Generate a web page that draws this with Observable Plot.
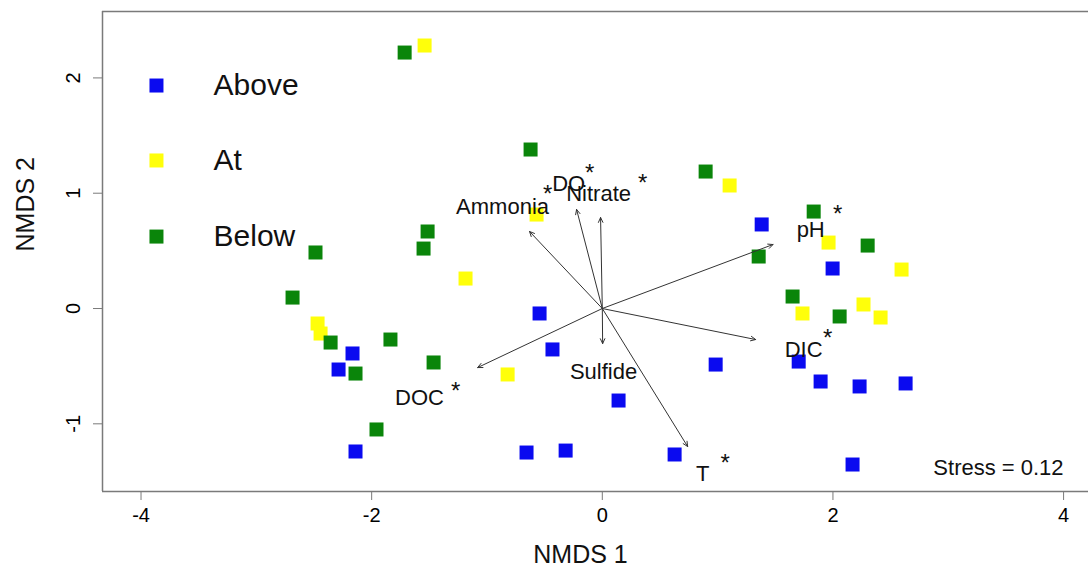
<!DOCTYPE html>
<html>
<head>
<meta charset="utf-8">
<script src="https://cdn.jsdelivr.net/npm/d3@7"></script>
<script src="https://cdn.jsdelivr.net/npm/@observablehq/plot@0.6"></script>
<style>
  html, body { margin: 0; padding: 0; background: #fff; }
  #chart { width: 1088px; height: 574px; }
</style>
</head>
<body>
<div id="chart"></div>
<script>
// ---- Data (NMDS coordinates) ----
const groups = ["Above", "At", "Below"];
const groupColors = ["#0a0af0", "#ffff0a", "#0a850a"];

const abovePts = [
  [1.382, 0.729], [1.997, 0.347], [-0.544, -0.043], [-0.432, -0.355],
  [-2.166, -0.390], [-2.287, -0.529], [0.983, -0.486], [1.703, -0.460],
  [0.141, -0.798], [1.893, -0.633], [2.231, -0.676], [2.630, -0.650],
  [-2.140, -1.240], [-0.657, -1.249], [-0.318, -1.232], [0.627, -1.266],
  [2.170, -1.353]
];
const atPts = [
  [-1.541, 2.281], [1.104, 1.067], [-0.570, 0.815], [1.962, 0.572],
  [2.595, 0.338], [-1.186, 0.260], [1.736, -0.043], [2.265, 0.035],
  [2.413, -0.078], [-2.469, -0.130], [-2.443, -0.217], [-0.821, -0.572]
];
const belowPts = [
  [-1.714, 2.220], [-0.622, 1.379], [0.896, 1.188], [1.833, 0.841],
  [2.301, 0.546], [1.356, 0.451], [-2.487, 0.486], [-1.515, 0.668],
  [-1.550, 0.520], [-2.686, 0.095], [1.650, 0.104], [2.058, -0.069],
  [-2.356, -0.295], [-1.837, -0.269], [-2.140, -0.564], [-1.463, -0.468],
  [-1.958, -1.049]
];

// Environmental vectors (arrow tips) and their labels
const envNames  = ["DOC", "Sulfide", "T", "DIC", "pH", "Ammonia", "DO", "Nitrate"];
const envX      = [-1.081, 0.003, 0.740, 1.330, 1.480, -0.631, -0.223, -0.015];
const envY      = [-0.512, -0.304, -1.197, -0.269, 0.555, 0.668, 0.859, 0.789];
const envLabelX = [-1.585, 0.011, 0.870, 1.746, 1.807, -0.865, -0.292, -0.032];
const envLabelY = [-0.772, -0.546, -1.431, -0.356, 0.685, 0.885, 1.084, 0.997];

// Significance asterisks
const starX = [-1.272, 1.065, 1.954, 2.041, -0.474, -0.110, 0.350];
const starY = [-0.668, -1.292, -0.208, 0.867, 1.041, 1.223, 1.136];

// Axis ticks
const xTicks = [-4, -2, 0, 2, 4];
const yTicks = [-1, 0, 1, 2];
const stressText = "Stress = 0.12";

// ---- Build tables ----
const points = [
  ...abovePts.map(([x, y]) => ({x, y, group: "Above"})),
  ...atPts.map(([x, y]) => ({x, y, group: "At"})),
  ...belowPts.map(([x, y]) => ({x, y, group: "Below"}))
];
const vectors = envNames.map((name, i) => ({name, x: envX[i], y: envY[i], lx: envLabelX[i], ly: envLabelY[i]}));
const stars = starX.map((x, i) => ({x, y: starY[i]}));

const xDomain = [-4.334, 4.216];
const yDomain = [-1.587, 2.576];
const frameColor = "#7a7a7a";
const font = "'Liberation Sans', Arial, Helvetica, sans-serif";

// Legend placement inside the frame (data units)
const legendX = -3.866, legendTextX = -3.371;
const legendY = [1.934, 1.284, 0.624];
const legendRows = groups.map((g, i) => ({group: g, y: legendY[i]}));

const chart = Plot.plot({
  width: 1088,
  height: 574,
  marginLeft: 102,
  marginRight: 0,
  marginTop: 11,
  marginBottom: 83,
  style: {fontFamily: font, background: "#fff", color: "black"},
  x: {domain: xDomain},
  y: {domain: yDomain},
  color: {domain: groups, range: groupColors},
  marks: [
    // box (left, top, bottom)
    Plot.ruleX([xDomain[0]], {stroke: frameColor, strokeWidth: 1.5}),
    Plot.ruleY([yDomain[1]], {stroke: frameColor, strokeWidth: 1.5}),
    Plot.ruleY([yDomain[0]], {stroke: frameColor, strokeWidth: 1.5}),
    Plot.axisX({ticks: xTicks, tickFormat: d => String(d), tickSize: 9, tickPadding: 7,
      fontSize: 20, stroke: frameColor, fill: "black", label: null}),
    Plot.axisY({ticks: yTicks, tickFormat: d => String(d), tickSize: 9, tickPadding: 14,
      tickRotate: -90, fontSize: 20, stroke: frameColor, fill: "black", label: null}),
    Plot.text(["NMDS 1"], {frameAnchor: "bottom", dx: -15, dy: 71, fontSize: 25, fill: "#111"}),
    Plot.text(["NMDS 2"], {frameAnchor: "left", dx: -77, rotate: -90, fontSize: 25, fill: "#111"}),
    // sample points
    Plot.dot(points, {x: "x", y: "y", fill: "group", symbol: "square", r: 7.9, stroke: null}),
    // environmental vectors
    Plot.arrow(vectors, {x1: () => 0, y1: () => 0, x2: "x", y2: "y",
      stroke: "#333", strokeWidth: 1, headLength: 8, headAngle: 50}),
    Plot.text(vectors, {x: "lx", y: "ly", text: "name", fontSize: 22, fill: "#111"}),
    Plot.text(stars, {x: "x", y: "y", text: () => "*", fontSize: 24, dy: 6, fill: "#111"}),
    // legend
    Plot.dot(legendRows, {x: () => legendX, y: "y", fill: "group", symbol: "square", r: 7.9}),
    Plot.text(legendRows, {x: () => legendTextX, y: "y", text: "group", textAnchor: "start", fontSize: 30, fill: "#111"}),
    // stress
    Plot.text([stressText], {x: () => 4.0, y: () => -1.379, textAnchor: "end", fontSize: 22, fill: "#111"})
  ]
});
document.getElementById("chart").appendChild(chart);
</script>
</body>
</html>
